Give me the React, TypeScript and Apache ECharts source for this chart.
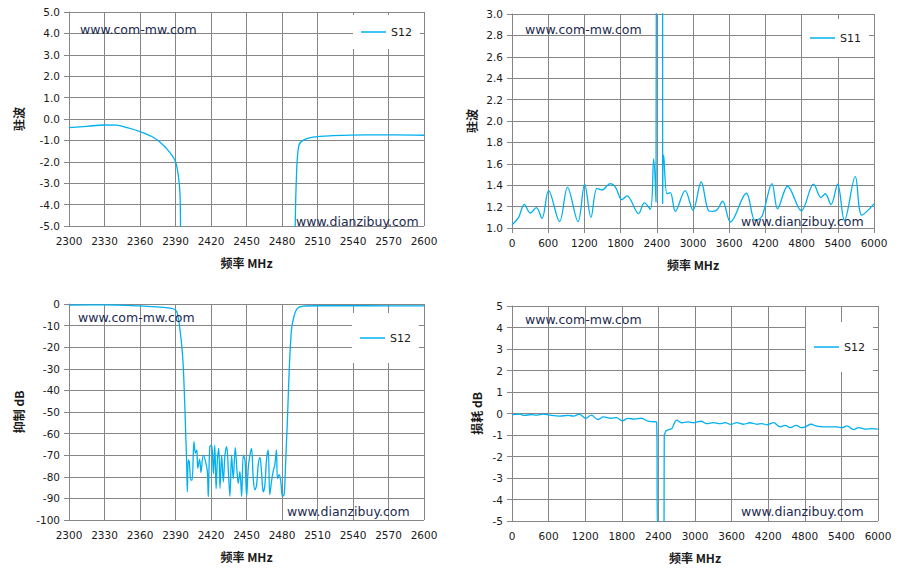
import React, { useEffect, useRef } from "react";
import * as echarts from "echarts";

// ---- Chart 1: S12 pass band (驻波), 2300-2600 MHz ----
const s12PassFreq = [2300, 2315, 2330, 2340, 2350, 2360, 2370, 2377, 2385, 2390, 2392.5, 2393.8, 2394.3, 2440, 2491, 2492.2, 2494.2, 2497.8, 2506, 2523, 2551, 2575, 2600];
const s12PassVal = [-0.4, -0.34, -0.28, -0.29, -0.42, -0.59, -0.82, -1.09, -1.55, -2.0, -2.7, -3.5, -5.6, null, -5.6, -2.7, -1.24, -1.0, -0.85, -0.78, -0.74, -0.74, -0.76];

// ---- Chart 2: S11 VSWR (驻波), 0-6000 MHz ----
const s11Freq = [0, 110, 204, 303, 403, 497, 607, 789, 920, 1094, 1204, 1309, 1408, 1491, 1629, 1712, 1823, 1906, 2098, 2193, 2293, 2348, 2387, 2393, 2496, 2497, 2514, 2569, 2624, 2707, 2870, 3000, 3135, 3260, 3330, 3400, 3491, 3620, 3884, 4030, 4143, 4309, 4402, 4568, 4795, 4999, 5122, 5193, 5287, 5397, 5510, 5690, 5801, 6000];
const s11Val = [1.03, 1.1, 1.22, 1.14, 1.19, 1.09, 1.35, 1.06, 1.38, 1.06, 1.41, 1.1, 1.37, 1.355, 1.415, 1.385, 1.265, 1.3, 1.135, 1.235, 1.175, 1.645, 1.243, 3.5, 3.5, 1.228, 1.68, 1.32, 1.33, 1.156, 1.35, 1.166, 1.43, 1.16, 1.155, 1.17, 1.25, 1.056, 1.325, 1.07, 1.11, 1.415, 1.18, 1.39, 1.16, 1.41, 1.284, 1.32, 1.219, 1.409, 1.07, 1.48, 1.12, 1.225];

// ---- Chart 3: S12 rejection (抑制 dB), 2300-2600 MHz ----
const s12RejFreq = [2300, 2330, 2360, 2380, 2388, 2391, 2393.5, 2396, 2397.4, 2398.5, 2399.5, 2400, 2400.8, 2401.6, 2403, 2404, 2405.6, 2406.8, 2408, 2408.8, 2410.4, 2411.5, 2413.5, 2415.4, 2416.9, 2417.7, 2419, 2420.6, 2422, 2423.2, 2424.3, 2425.4, 2426.6, 2427.6, 2429, 2430.4, 2431.8, 2433.3, 2434.7, 2436, 2437.4, 2438.8, 2440.5, 2442, 2443, 2444.4, 2445.9, 2447.3, 2448.7, 2450.1, 2451.5, 2452.9, 2454.3, 2455.7, 2457.1, 2458.5, 2459.9, 2461.3, 2462.7, 2464.1, 2465.5, 2466.9, 2468.3, 2469.7, 2471.1, 2472.5, 2473.9, 2475.3, 2476.2, 2477.6, 2479, 2480.4, 2481.8, 2482.9, 2483.8, 2484.5, 2486, 2488, 2490, 2493, 2498, 2510, 2550, 2600];
const s12RejVal = [-0.5, -0.4, -0.9, -1.6, -2.2, -3.5, -10.5, -24, -40, -58, -75, -87, -72.2, -73, -81.5, -81.5, -63.7, -69, -67.6, -76, -72, -78, -70, -73, -77.5, -89.2, -66, -65.4, -78.6, -65.4, -85.5, -72.2, -66.8, -85.4, -70, -82.3, -70, -66, -77.6, -89, -70, -80.8, -66.5, -77.6, -83, -77.6, -89, -70, -72.2, -89, -76, -70, -66.8, -80.8, -86, -84, -74.5, -71, -77.6, -87, -84, -72.2, -67.6, -88.3, -82.3, -77.6, -74.5, -67.6, -80.8, -79, -82.3, -89, -88.3, -76, -63.7, -55, -32, -12, -6, -2, -1, -0.8, -0.8, -0.9];

// ---- Chart 4: S12 insertion loss (损耗 dB), 0-6000 MHz ----
const s12LossFreq = [0, 130, 200, 320, 400, 510, 620, 780, 920, 1010, 1100, 1210, 1300, 1410, 1500, 1630, 1710, 1810, 1900, 2010, 2120, 2230, 2300, 2370, 2388, 2492, 2496, 2507, 2525, 2580, 2620, 2700, 2781, 2890, 2975, 3100, 3193, 3302, 3412, 3494, 3587, 3685, 3795, 3904, 4014, 4096, 4178, 4287, 4397, 4479, 4561, 4660, 4742, 4808, 4900, 4999, 5108, 5217, 5327, 5409, 5491, 5600, 5682, 5792, 5902, 6000];
const s12LossVal = [-0.05, -0.03, -0.09, -0.05, -0.08, -0.03, -0.08, -0.12, -0.09, -0.12, -0.03, -0.23, -0.08, -0.28, -0.16, -0.22, -0.19, -0.34, -0.23, -0.26, -0.22, -0.36, -0.38, -0.39, -5.6, -5.6, -1.0, -0.93, -0.8, -0.74, -0.7, -0.31, -0.43, -0.39, -0.43, -0.36, -0.47, -0.42, -0.47, -0.42, -0.51, -0.42, -0.5, -0.43, -0.5, -0.47, -0.53, -0.42, -0.62, -0.55, -0.66, -0.55, -0.66, -0.62, -0.5, -0.59, -0.62, -0.62, -0.62, -0.66, -0.58, -0.75, -0.66, -0.73, -0.7, -0.73];

const xNameLabel = "频率 MHz";
const yNames = ["驻波", "驻波", "抑制 dB", "损耗 dB"];
const watermarkTop = "www.com-mw.com";
const watermarkBottom = "www.dianzibuy.com";
const bandStart = 2300;

const LINE_COLOR = "#00B0F0";
const GRID_COLOR = "#868686";
const TEXT_COLOR = "#1a1a1a";
const WM_COLOR = "#1c2a4e";

function pairs(freq: number[], val: (number | null)[], offset: number) {
  return freq.map((f, i) => [f - offset, val[i] === null ? "-" : val[i]]);
}

export default function App() {
  const ref = useRef<HTMLDivElement>(null);
  useEffect(() => {
    document.body.style.margin = "0";
    if (!ref.current) return;
    const chart = echarts.init(ref.current, null, { renderer: "svg" });

    const grids = [
      { left: 69, top: 12, width: 355, height: 214 },
      { left: 512, top: 14, width: 362, height: 214 },
      { left: 69, top: 304, width: 355, height: 216 },
      { left: 512, top: 306, width: 366, height: 215 },
    ];

    const axisCommon = {
      axisLine: { show: true, lineStyle: { color: GRID_COLOR, width: 1 } },
      axisTick: { show: true, length: 5, lineStyle: { color: GRID_COLOR, width: 1 } },
      splitLine: { show: true, lineStyle: { color: GRID_COLOR, width: 1 } },
    };
    const labelFont = { fontFamily: "DejaVu Sans", fontSize: 10.5, color: TEXT_COLOR };
    const nameFont = { fontFamily: "Noto Sans CJK SC", fontSize: 12, fontWeight: "bold", color: TEXT_COLOR };

    const bandX = (gi: number) => ({
      type: "value", gridIndex: gi, min: 0, max: 300, interval: 30,
      ...axisCommon,
      axisLabel: { ...labelFont, margin: 9, formatter: (v: number) => String(v + bandStart) },
      name: xNameLabel, nameLocation: "middle", nameGap: 30, nameTextStyle: nameFont,
    });
    const wideX = (gi: number) => ({
      type: "value", gridIndex: gi, min: 0, max: 6000, interval: 600,
      ...axisCommon,
      axisLabel: { ...labelFont, margin: 9, formatter: (v: number) => String(v) },
      name: xNameLabel, nameLocation: "middle", nameGap: 30, nameTextStyle: nameFont,
    });
    const yAx = (gi: number, min: number, max: number, interval: number, digits: number, gap: number) => ({
      type: "value", gridIndex: gi, min, max, interval,
      ...axisCommon,
      axisLabel: { ...labelFont, margin: 9, formatter: (v: number) => v.toFixed(digits) },
      name: yNames[gi], nameLocation: "middle", nameRotate: 90, nameGap: gap, nameTextStyle: nameFont,
    });

    const lineSeries = (name: string, gi: number, data: any[]) => ({
      type: "line", name, xAxisIndex: gi, yAxisIndex: gi, data,
      smooth: 0.35, symbol: "none", showSymbol: false, clip: true,
      connectNulls: false,
      lineStyle: { color: LINE_COLOR, width: 1.3 },
      itemStyle: { color: LINE_COLOR },
    });

    const legend = (name: string, left: number, top: number, padV: number) => ({
      data: [name], left, top, orient: "vertical",
      backgroundColor: "#ffffff", padding: [padV, 8, padV, 8],
      icon: "rect", itemWidth: 25, itemHeight: 1.5, itemGap: 0,
      textStyle: { fontFamily: "DejaVu Sans", fontSize: 11, color: TEXT_COLOR, lineHeight: 14 },
    });

    const wm = (text: string, x: number, y: number) => ({
      type: "text", x, y, z: 100,
      style: { text, fill: WM_COLOR, fontFamily: "DejaVu Sans", fontSize: 12.5, verticalAlign: "middle", align: "left" },
    });

    chart.setOption({
      animation: false,
      backgroundColor: "#ffffff",
      grid: grids.map((g) => ({ ...g, containLabel: false })),
      xAxis: [bandX(0), wideX(1), bandX(2), wideX(3)],
      yAxis: [
        yAx(0, -5, 5, 1, 1, 45),
        yAx(1, 1, 3, 0.2, 1, 35),
        yAx(2, -100, 0, 10, 0, 45),
        yAx(3, -5, 5, 1, 0, 30),
      ],
      legend: [
        legend("S12", 353, 15, 10),
        legend("S11", 802, 19, 12),
        legend("S12", 352, 313, 18),
        legend("S12", 806, 322, 18),
      ],
      series: [
        lineSeries("S12", 0, pairs(s12PassFreq, s12PassVal, bandStart)),
        lineSeries("S11", 1, pairs(s11Freq, s11Val, 0)),
        lineSeries("S12", 2, pairs(s12RejFreq, s12RejVal, bandStart)),
        lineSeries("S12", 3, pairs(s12LossFreq, s12LossVal, 0)),
      ],
      graphic: [
        wm(watermarkTop, 80, 29),
        wm(watermarkBottom, 296, 221),
        wm(watermarkTop, 525, 29),
        wm(watermarkBottom, 741, 221),
        wm(watermarkTop, 78, 317),
        wm(watermarkBottom, 287, 511),
        wm(watermarkTop, 525, 319),
        wm(watermarkBottom, 741, 511),
      ],
    });
    return () => chart.dispose();
  }, []);
  return <div ref={ref} style={{ width: 902, height: 581 }} />;
}
